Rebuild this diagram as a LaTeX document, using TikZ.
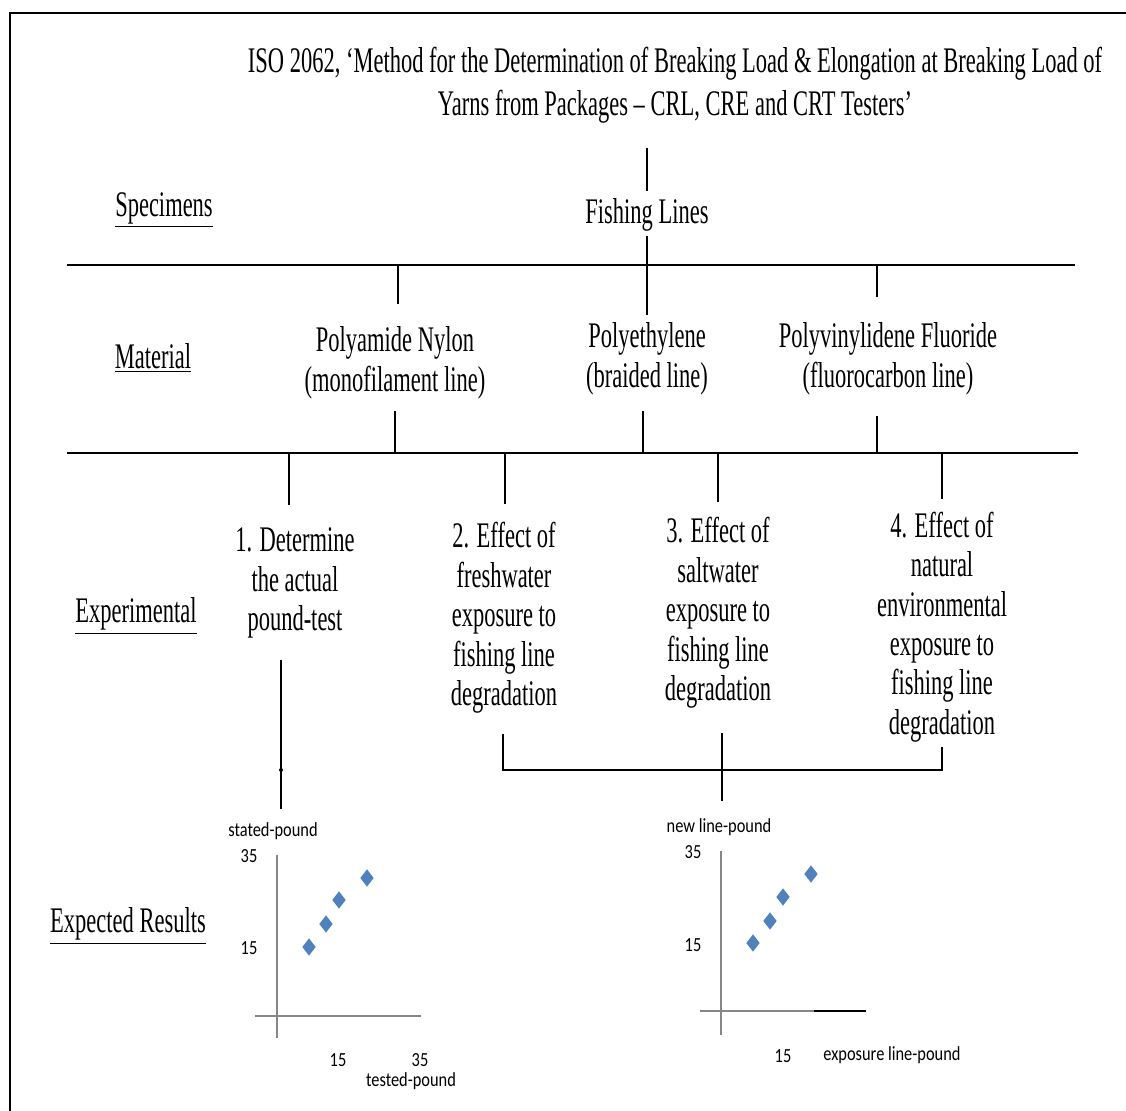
\documentclass[tikz,border=0pt]{standalone}
\usepackage{fontspec}
\setmainfont{Liberation Serif}[FakeStretch=0.625]
\newfontfamily\chartfont{Carlito}[FakeStretch=0.82]
\usetikzlibrary{shapes.geometric}

\definecolor{axisgray}{RGB}{134,134,134}
\definecolor{markblue}{RGB}{79,129,189}

\tikzset{
  txt/.style={font=\fontsize{18}{19.7}\selectfont, align=center, inner sep=2pt},
  head/.style={font=\fontsize{18}{19.7}\selectfont, inner sep=2pt},
  axlab/.style={font=\chartfont\fontsize{10}{12}\selectfont, inner sep=2pt},
  axis/.style={axisgray, line width=0.8pt},
  diam/.style={diamond, fill=markblue, inner sep=0pt, minimum width=7pt, minimum height=9pt},
}

\begin{document}
\begin{tikzpicture}[x=0.5pt, y=-0.5pt, line width=0.8pt]
    \useasboundingbox (0,0) rectangle (1126,1111);
    % frame (top and left edges)
    \draw (10,1111) -- (10,13) -- (1126,13);

    % title
    \node[txt, font=\fontsize{18}{21.5}\selectfont] (title) at (675,85)
        {ISO 2062, `Method for the Determination of Breaking Load \& Elongation at Breaking Load of\\
         Yarns from Packages -- CRL, CRE and CRT Testers'};

    % row headings
    \node[head] (specimens) at (164,210) {\underline{Specimens}};
    \node[head] (material) at (153,358) {\underline{Material}};
    \node[head] (experimental) at (136,616) {\underline{Experimental}};
    \node[head] (results) at (128,926) {\underline{Expected Results}};

    % specimens and materials
    \node[txt] (fish) at (647,215) {Fishing Lines};
    \node[txt] (pa) at (395,363) {Polyamide Nylon\\(monofilament line)};
    \node[txt] (pe) at (647,359) {Polyethylene\\(braided line)};
    \node[txt] (pvdf) at (888,359) {Polyvinylidene Fluoride\\(fluorocarbon line)};

    % experiments
    \node[txt] (e1) at (295,583) {1. Determine\\the actual\\pound-test};
    \node[txt] (e2) at (504,618) {2. Effect of\\freshwater\\exposure to\\fishing line\\degradation};
    \node[txt] (e3) at (718,613) {3. Effect of\\saltwater\\exposure to\\fishing line\\degradation};
    \node[txt] (e4) at (942,627) {4. Effect of\\natural\\environmental\\exposure to\\fishing line\\degradation};

    % horizontal bars
    \coordinate (specL) at (67,265);
    \coordinate (specR) at (1075,265);
    \coordinate (matL) at (67,453);
    \coordinate (matR) at (1078,453);
    \draw (specL) -- (specR);
    \draw (matL) -- (matR);

    % connectors
    \draw[shorten <=10pt, shorten >=1.5pt] (title.south -| fish.north) -- (fish.north);
    \draw[shorten >=1.5pt] (fish.south) -- (pe.north);
    \draw[shorten >=9pt] ([xshift=1.5pt]pa.north |- specL) -- ([xshift=1.5pt]pa.north);
    \draw[shorten >=10.5pt] ([xshift=-5.5pt]pvdf.north |- specL) -- ([xshift=-5.5pt]pvdf.north);
    \draw[shorten <=3.5pt] (pa.south) -- (pa.south |- matL);
    \draw[shorten <=5.5pt] ([xshift=-2pt]pe.south) -- ([xshift=-2pt]pe.south |- matL);
    \draw[shorten <=8pt] ([xshift=-5.5pt]pvdf.south) -- ([xshift=-5.5pt]pvdf.south |- matL);
    \draw[shorten >=9.2pt] ([xshift=-3pt]e1.north |- matL) -- ([xshift=-3pt]e1.north);
    \draw[shorten >=7pt] ([xshift=0.5pt]e2.north |- matL) -- ([xshift=0.5pt]e2.north);
    \draw[shorten >=5.5pt] (e3.north |- matL) -- (e3.north);
    \draw[shorten >=4.1pt] (e4.north |- matL) -- (e4.north);

    % chart: stated vs tested pound
    \node[axlab] (ylabA) at (273,831) {stated-pound};
    \node[axlab] (yA35) at (249,856) {35};
    \node[axlab] (yA15) at (249,948) {15};
    \draw[axis] (277,855) -- (277,1038);
    \draw[axis] (255,1016) -- (421,1016);
    \foreach \x/\y in {309/947, 326/924, 339/900, 367/878}
        \node[diam] at (\x,\y) {};
    \node[axlab] (xA15) at (338,1060) {15};
    \node[axlab] (xA35) at (420,1060) {35};
    \node[axlab] (xlabA) at (411,1081) {tested-pound};

    % chart: new vs exposure pound
    \node[axlab] (ylabB) at (719,827) {new line-pound};
    \node[axlab] (yB35) at (693,852) {35};
    \node[axlab] (yB15) at (693,945) {15};
    \draw[axis] (721,851) -- (721,1035);
    \draw[axis] (700,1011) -- (866,1011);
    \draw (814,1011) -- (866,1011);
    \foreach \x/\y in {753/943, 770/921, 783/897, 811/874}
        \node[diam] at (\x,\y) {};
    \node[axlab] (xB15) at (783,1056) {15};
    \node[axlab] (xlabB) at (892,1055) {exposure line-pound};

    % experiments to charts
    \draw[shorten <=8.5pt, shorten >=4.5pt] ([xshift=-7pt]e1.south) -- ([xshift=-7pt]e1.south |- ylabA.north);
    \coordinate (kink) at (281,770);
    \fill (kink) circle (1pt);
    \draw[shorten <=8pt] ([xshift=-0.5pt]e2.south) -- ([xshift=-0.5pt]e2.south |- kink)
        -- (e4.south |- kink) -- (e4.south);
    \draw[shorten <=10pt, shorten >=6.5pt] ([xshift=2pt]e3.south) -- ([xshift=2pt]e3.south |- ylabB.north);
\end{tikzpicture}
\end{document}
